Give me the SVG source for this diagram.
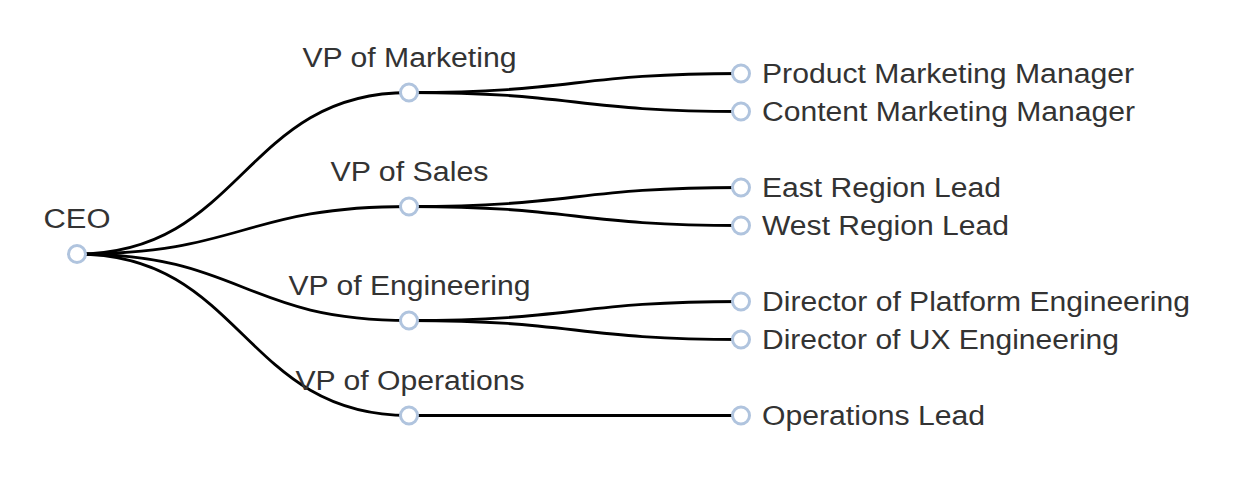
<svg xmlns="http://www.w3.org/2000/svg" width="1244" height="492" viewBox="0 0 1244 492">
<style>
.link{fill:none;stroke:#000;stroke-width:2.8}
.node circle{fill:#fff;stroke:#b0c4de;stroke-width:3}
.node text{font-family:"Liberation Sans",Arial,sans-serif;font-size:27px;fill:#333}
.mid{text-anchor:middle}
</style>
<rect width="1244" height="492" fill="#fff"/>
<g id="links">
<path class="link" d="M77,254C243,254 243,92.5 409,92.5"/>
<path class="link" d="M77,254C243,254 243,206.5 409,206.5"/>
<path class="link" d="M77,254C243,254 243,320.5 409,320.5"/>
<path class="link" d="M77,254C243,254 243,415.5 409,415.5"/>
<path class="link" d="M409,92.5C575,92.5 575,73.5 741,73.5"/>
<path class="link" d="M409,92.5C575,92.5 575,111.5 741,111.5"/>
<path class="link" d="M409,206.5C575,206.5 575,187.5 741,187.5"/>
<path class="link" d="M409,206.5C575,206.5 575,225.5 741,225.5"/>
<path class="link" d="M409,320.5C575,320.5 575,301.5 741,301.5"/>
<path class="link" d="M409,320.5C575,320.5 575,339.5 741,339.5"/>
<path class="link" d="M409,415.5C575,415.5 575,415.5 741,415.5"/>
</g>
<g id="ceo" class="node"><circle cx="77" cy="254" r="8.5"/><text class="mid" x="77" y="227.5" textLength="67" lengthAdjust="spacingAndGlyphs">CEO</text></g>
<g id="vp-marketing" class="node"><circle cx="409" cy="92.5" r="8.5"/><text class="mid" x="409.5" y="66.5" textLength="214" lengthAdjust="spacingAndGlyphs">VP of Marketing</text></g>
<g id="vp-sales" class="node"><circle cx="409" cy="206.5" r="8.5"/><text class="mid" x="409.5" y="180.5" textLength="158" lengthAdjust="spacingAndGlyphs">VP of Sales</text></g>
<g id="vp-engineering" class="node"><circle cx="409" cy="320.5" r="8.5"/><text class="mid" x="409.5" y="294.5" textLength="242" lengthAdjust="spacingAndGlyphs">VP of Engineering</text></g>
<g id="vp-operations" class="node"><circle cx="409" cy="415.5" r="8.5"/><text class="mid" x="410" y="389.5" textLength="229" lengthAdjust="spacingAndGlyphs">VP of Operations</text></g>
<g id="product-marketing-manager" class="node"><circle cx="741" cy="73.5" r="8.5"/><text x="762" y="83.3" textLength="372" lengthAdjust="spacingAndGlyphs">Product Marketing Manager</text></g>
<g id="content-marketing-manager" class="node"><circle cx="741" cy="111.5" r="8.5"/><text x="762" y="121.3" textLength="373" lengthAdjust="spacingAndGlyphs">Content Marketing Manager</text></g>
<g id="east-region-lead" class="node"><circle cx="741" cy="187.5" r="8.5"/><text x="762" y="197.3" textLength="239" lengthAdjust="spacingAndGlyphs">East Region Lead</text></g>
<g id="west-region-lead" class="node"><circle cx="741" cy="225.5" r="8.5"/><text x="762" y="235.3" textLength="247" lengthAdjust="spacingAndGlyphs">West Region Lead</text></g>
<g id="director-platform-engineering" class="node"><circle cx="741" cy="301.5" r="8.5"/><text x="762" y="311.3" textLength="428" lengthAdjust="spacingAndGlyphs">Director of Platform Engineering</text></g>
<g id="director-ux-engineering" class="node"><circle cx="741" cy="339.5" r="8.5"/><text x="762" y="349.3" textLength="357" lengthAdjust="spacingAndGlyphs">Director of UX Engineering</text></g>
<g id="operations-lead" class="node"><circle cx="741" cy="415.5" r="8.5"/><text x="762" y="425.3" textLength="223" lengthAdjust="spacingAndGlyphs">Operations Lead</text></g>
</svg>
